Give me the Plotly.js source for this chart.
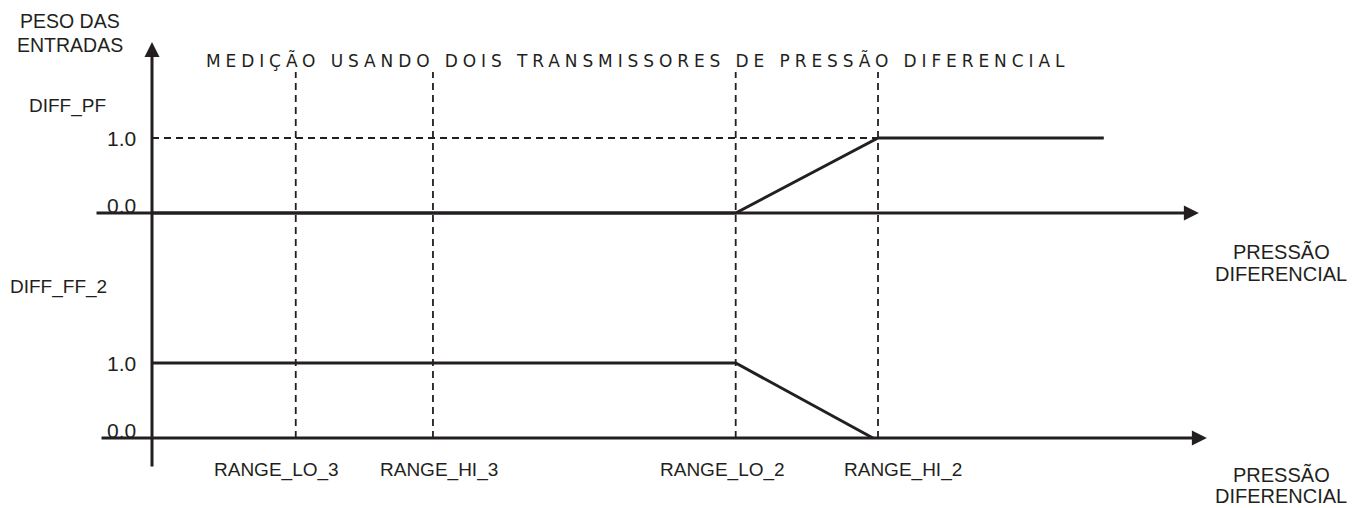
<!DOCTYPE html>
<html>
<head>
<meta charset="utf-8">
<script src="https://cdn.plot.ly/plotly-3.0.1.min.js"></script>
<style>
  html, body { margin: 0; padding: 0; background: #fff; }
  #chart { width: 1365px; height: 508px; }
  /* the original title uses a wide, letter-spaced face */
  #chart .gtitle { letter-spacing: 4.9px; }
</style>
</head>
<body>
<div id="chart"></div>
<script>
// breakpoints on the differential pressure axis (arbitrary units, RANGE_HI_2 = 100)
const rangeNames = ['RANGE_LO_3', 'RANGE_HI_3', 'RANGE_LO_2', 'RANGE_HI_2'];
const rangeValues = [19.8, 38.7, 80.4, 100];

// input weights
const pfX = [0, 80.4, 100, 131.1];
const pfWeight = [0, 0, 1, 1];
const ff2X = [0, 80.4, 99.3];
const ff2Weight = [1, 1, 0];

const weightTicks = [0, 1];
const weightTickText = ['0.0', '1.0'];

const ink = '#231f20';
const font = 'Liberation Sans, Arial, sans-serif';

// drawing scale: 7.26 px per pressure unit, 75 px per weight unit
const pxX = 7.26, pxY = 75;
const originX = 152;          // px of the vertical axis
const baseBottom = 438;       // px of DIFF_FF_2 zero
const baseTop = 213;          // px of DIFF_PF zero
const W = 1365, H = 508;

const xRange = [-originX / pxX, (W - originX) / pxX];
const yRange = [-(H - baseBottom) / pxY, baseBottom / pxY];
const y2Range = [-(H - baseTop) / pxY, baseTop / pxY];

const traces = [
    {
        x: pfX, y: pfWeight, yaxis: 'y2', type: 'scatter', mode: 'lines',
        line: { color: ink, width: 3 }, hoverinfo: 'skip'
    },
    {
        x: ff2X, y: ff2Weight, yaxis: 'y', type: 'scatter', mode: 'lines',
        line: { color: ink, width: 3 }, hoverinfo: 'skip'
    }
];

const dashed = { color: ink, width: 1.8, dash: '7px,5px' };
const shapes = rangeValues.map(v => ({
    type: 'line', xref: 'x', yref: 'y', layer: 'below',
    x0: v, x1: v, y0: 0, y1: 4.88, line: dashed
}));
shapes.push({
    type: 'line', xref: 'x', yref: 'y2', layer: 'below',
    x0: 0, x1: rangeValues[3], y0: 1, y1: 1, line: dashed
});

// axes with arrow heads
const arrow = { text: '', showarrow: true, arrowhead: 2, arrowsize: 1, arrowwidth: 3, arrowcolor: ink, axref: 'x' };
const annotations = [
    Object.assign({}, arrow, { x: 0, y: 5.28, ax: 0, ay: -0.4, yref: 'y', ayref: 'y' }),
    Object.assign({}, arrow, { x: 144.2, y: 0, ax: -7.85, ay: 0, yref: 'y2', ayref: 'y2' }),
    Object.assign({}, arrow, { x: 145.3, y: 0, ax: -7.16, ay: 0, yref: 'y', ayref: 'y' })
];

const txt = (text, extra, size) => Object.assign({
    text: text, showarrow: false, font: { family: font, size: size || 19, color: ink }
}, extra);

// weight labels for both panels
['y2', 'y'].forEach(ref => {
    weightTicks.forEach((t, i) => {
        annotations.push(txt(weightTickText[i], {
            x: 0, y: t, xref: 'x', yref: ref, xanchor: 'right', yanchor: 'middle',
            xshift: -14, yshift: t === 0 ? 8 : 0
        }, 21));
    });
});

// range labels under the bottom axis
const labelNudge = [-19, 6, -13, 25];
rangeNames.forEach((name, i) => {
    annotations.push(txt(name, {
        x: rangeValues[i], y: 0, xref: 'x', yref: 'y', xanchor: 'center', yanchor: 'middle',
        xshift: labelNudge[i], yshift: -32
    }));
});

// x axis name, one line per annotation to keep the tight leading
[['y2', -38, -61], ['y', -36, -58]].forEach(([ref, s1, s2]) => {
    annotations.push(
        txt('PRESSÃO', { x: 1281 / W, y: 0, xref: 'paper', yref: ref, yshift: s1, xanchor: 'center', yanchor: 'middle' }, 20),
        txt('DIFERENCIAL', { x: 1281 / W, y: 0, xref: 'paper', yref: ref, yshift: s2, xanchor: 'center', yanchor: 'middle' }, 20)
    );
});

annotations.push(
    txt('PESO DAS', { x: 70 / W, y: 1 - 21 / H, xref: 'paper', yref: 'paper', xanchor: 'center', yanchor: 'middle' }, 19.5),
    txt('ENTRADAS', { x: 70 / W, y: 1 - 45 / H, xref: 'paper', yref: 'paper', xanchor: 'center', yanchor: 'middle' }, 19.5),
    txt('DIFF_PF', { x: 67 / W, y: 1 - 106 / H, xref: 'paper', yref: 'paper', xanchor: 'center', yanchor: 'middle' }),
    txt('DIFF_FF_2', { x: 58 / W, y: 1 - 287 / H, xref: 'paper', yref: 'paper', xanchor: 'center', yanchor: 'middle' })
);

const layout = {
    width: W, height: H,
    margin: { t: 0, r: 0, b: 0, l: 0 },
    paper_bgcolor: 'white', plot_bgcolor: 'white',
    showlegend: false,
    title: {
        text: 'MEDIÇÃO USANDO DOIS TRANSMISSORES DE PRESSÃO DIFERENCIAL',
        x: 206 / W, xanchor: 'left', xref: 'paper',
        y: 1 - 61 / H, yanchor: 'middle', yref: 'paper',
        font: { family: 'DejaVu Sans, sans-serif', size: 17, color: ink }
    },
    xaxis: { range: xRange, visible: false, fixedrange: true },
    yaxis: { range: yRange, visible: false, fixedrange: true },
    yaxis2: { range: y2Range, overlaying: 'y', visible: false, fixedrange: true },
    shapes: shapes,
    annotations: annotations
};

Plotly.newPlot('chart', traces, layout, { displayModeBar: false, staticPlot: true });
</script>
</body>
</html>
